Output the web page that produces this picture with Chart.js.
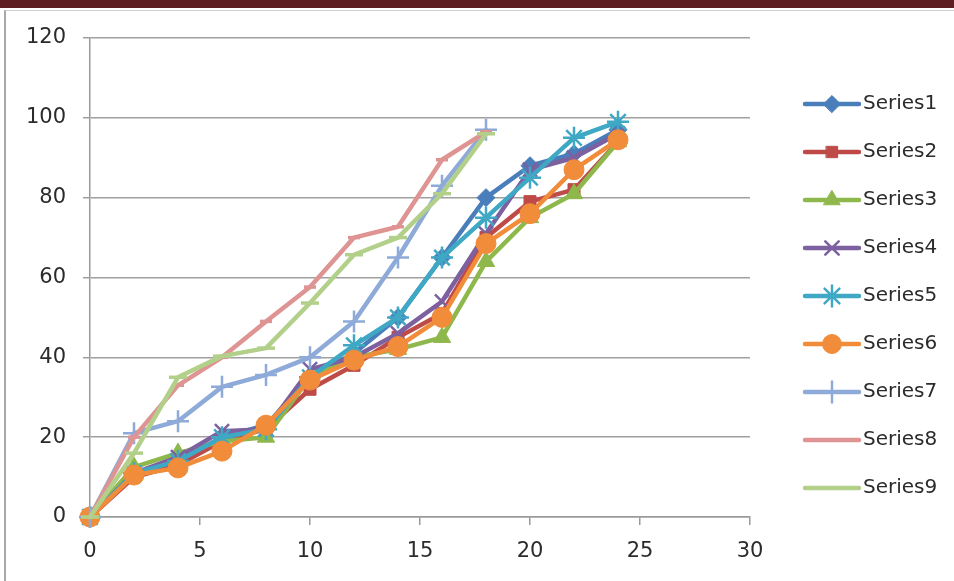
<!DOCTYPE html>
<html>
<head>
<meta charset="utf-8">
<script src="https://cdn.jsdelivr.net/npm/chart.js@4/dist/chart.umd.min.js"></script>
<style>
  html, body { margin: 0; padding: 0; background: #fff; }
  #wrap { position: relative; width: 954px; height: 581px; overflow: hidden; background: #fff; }
  #topbar { position: absolute; left: 0; top: 0; width: 954px; height: 8px; background: #5f1f22; }
  #frame { position: absolute; left: 4px; top: 10px; width: 960px; height: 580px;
           border-left: 2px solid #a8a8a8; border-top: 1px solid #d0d0d0; }
  canvas { position: absolute; left: 0; top: 0; }
</style>
</head>
<body>
<div id="wrap">
  <div id="topbar"></div>
  <div id="frame"></div>
  <canvas id="c" width="954" height="581"></canvas>
</div>
<script>
// Sampling times shared by every series
const xFull  = [0, 2, 4, 6, 8, 10, 12, 14, 16, 18, 20, 22, 24];
const xShort = [0, 2, 4, 6, 8, 10, 12, 14, 16, 18];

const series1 = [0, 11, 14, 20, 23, 35, 41, 50, 65, 80, 88, 91, 97];
const series2 = [0, 10, 13, 19, 22, 32, 38, 45, 51, 70, 79, 82, 94];
const series3 = [0, 12.5, 16, 19, 20, 35, 40, 42, 45, 64, 75, 81, 94];
const series4 = [0, 11, 15, 21.5, 22, 37, 40, 46, 54, 71, 87, 90, 96];
const series5 = [0, 11, 14, 20, 22, 35, 43, 50, 65, 75, 85, 95, 99];
const series6 = [0, 10.5, 12.3, 16.5, 23, 34.3, 39.3, 42.7, 50, 68.5, 76, 87, 94.5];
const series7 = [0, 21, 24, 32.6, 35.6, 40, 49, 65, 83, 97];
const series8 = [0, 20, 33, 40, 49, 57.6, 70, 72.7, 89.5, 96.5];
const series9 = [0, 16, 35, 40.3, 42.3, 53.6, 65.7, 70, 81, 96];

const seriesNames = ['Series1', 'Series2', 'Series3', 'Series4', 'Series5',
                     'Series6', 'Series7', 'Series8', 'Series9'];

const xTicks = [0, 5, 10, 15, 20, 25, 30];
const yTicks = [0, 20, 40, 60, 80, 100, 120];

const styles = [
  { color: '#4a7ebb', point: 'rectRot',  r: 9,  bw: 1 },
  { color: '#be4b48', point: 'rect',     r: 8.5, bw: 1 },
  { color: '#8fb84c', point: 'triangle', r: 10, bw: 1 },
  { color: '#7d60a0', point: 'crossRot', r: 10, bw: 2.5 },
  { color: '#3fa8c4', point: 'star',     r: 11, bw: 2.5 },
  { color: '#f08c3a', point: 'circle',   r: 10, bw: 1 },
  { color: '#8eaad8', point: 'cross',    r: 11, bw: 2.5 },
  { color: '#de9492', point: 'line',     r: 6,  bw: 3.5 },
  { color: '#b2d08a', point: 'line',     r: 9,  bw: 3.5 }
];

const values = [series1, series2, series3, series4, series5, series6, series7, series8, series9];

function toPoints(xs, ys) {
  return ys.map((v, i) => ({ x: xs[i], y: v }));
}

const datasets = values.map((ys, i) => {
  const st = styles[i];
  const xs = ys.length === xFull.length ? xFull : xShort;
  return {
    label: seriesNames[i],
    data: toPoints(xs, ys),
    borderColor: st.color,
    backgroundColor: st.color,
    borderWidth: 4.5,
    borderJoinStyle: 'round',
    borderCapStyle: 'round',
    pointStyle: st.point,
    pointRadius: st.r,
    pointHoverRadius: st.r,
    pointBorderWidth: st.bw,
    pointBorderColor: st.color,
    pointBackgroundColor: st.color,
    tension: 0,
    clip: false,
    // later series are painted over earlier ones
    order: values.length - i
  };
});

// Legend on the right: a short line with the series marker, then its name
const sideLegend = {
  id: 'sideLegend',
  afterDraw(chart) {
    const ctx = chart.ctx;
    const x0 = 805, x1 = 859, xm = 832, tx = 863;
    const y0 = 104, dy = 48;
    ctx.save();
    chart.data.datasets.forEach((ds, i) => {
      const y = y0 + i * dy;
      ctx.strokeStyle = ds.borderColor;
      ctx.lineWidth = 4.5;
      ctx.lineCap = 'round';
      ctx.beginPath();
      ctx.moveTo(x0, y);
      ctx.lineTo(x1, y);
      ctx.stroke();
      if (ds.pointStyle !== 'line') {
        ctx.fillStyle = ds.pointBackgroundColor;
        ctx.strokeStyle = ds.pointBorderColor;
        ctx.lineWidth = ds.pointBorderWidth;
        Chart.helpers.drawPoint(ctx, {
          pointStyle: ds.pointStyle,
          radius: ds.pointRadius - 0.5,
          rotation: 0,
          borderWidth: ds.pointBorderWidth
        }, xm, y);
      }
      ctx.fillStyle = '#2b2b2b';
      ctx.font = '20px "DejaVu Sans"';
      ctx.textAlign = 'left';
      ctx.textBaseline = 'middle';
      ctx.fillText(ds.label, tx, y);
    });
    ctx.restore();
  }
};

new Chart(document.getElementById('c'), {
  type: 'line',
  data: { datasets },
  plugins: [sideLegend],
  options: {
    responsive: false,
    animation: false,
    events: [],
    layout: { padding: { left: 0, top: 38, right: 204, bottom: 0 } },
    plugins: { legend: { display: false }, tooltip: { enabled: false } },
    scales: {
      x: {
        type: 'linear',
        min: 0, max: 30,
        afterBuildTicks(scale) { scale.ticks = xTicks.map(v => ({ value: v })); },
        afterFit(scale) { scale.height = 64; },
        border: { display: true, color: '#9a9a9a', width: 1.5 },
        grid: { display: true, drawOnChartArea: false, drawTicks: true, tickLength: 8,
                color: '#9a9a9a', lineWidth: 1.5 },
        ticks: { color: '#2b2b2b', font: { family: 'DejaVu Sans', size: 21 }, padding: 14,
                 maxRotation: 0 }
      },
      y: {
        min: 0, max: 120,
        afterBuildTicks(scale) { scale.ticks = yTicks.map(v => ({ value: v })); },
        afterFit(scale) { scale.width = 90; },
        border: { display: true, color: '#9a9a9a', width: 1.5 },
        grid: { display: true, drawTicks: true, tickLength: 7, color: '#a0a0a0', lineWidth: 1.5 },
        ticks: { color: '#2b2b2b', font: { family: 'DejaVu Sans', size: 21 }, padding: 17 }
      }
    }
  }
});
</script>
</body>
</html>
